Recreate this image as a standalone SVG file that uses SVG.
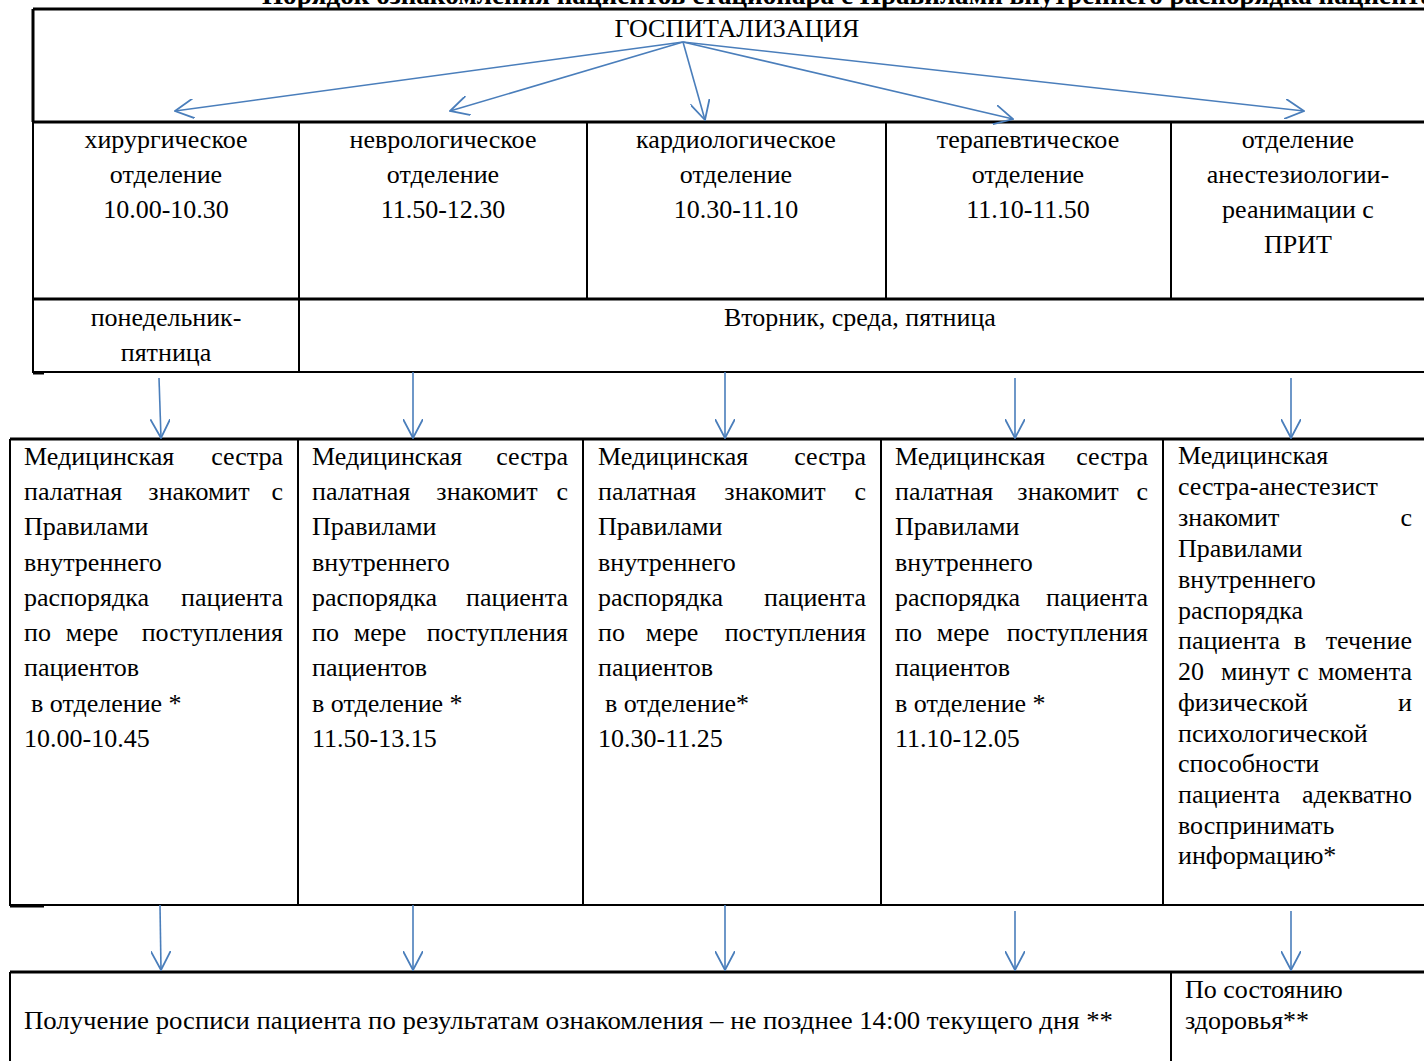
<svg xmlns="http://www.w3.org/2000/svg" width="1424" height="1061" viewBox="0 0 1424 1061">
<style>
text{font-family:"Liberation Serif","Times New Roman",serif;font-size:26px;fill:#000}
.title{font-weight:bold;font-size:27px}
.c{text-anchor:middle}
.e{text-anchor:end}
.thick{stroke:#000;stroke-width:3;fill:none}
.thin{stroke:#000;stroke-width:2;fill:none}
.arr{stroke:#4A7EBB;stroke-width:1.6;fill:none;marker-end:url(#ah)}
</style>
<defs>
<marker id="ah" viewBox="0 0 20 20" refX="19" refY="10" markerWidth="20" markerHeight="20" markerUnits="userSpaceOnUse" orient="auto">
<path d="M0,0 L19,10 L0,20" fill="none" stroke="#4A7EBB" stroke-width="1.8"/>
</marker>
</defs>
<rect width="1424" height="1061" fill="#fff"/>
<text class="title" x="262" y="4" textLength="1172" lengthAdjust="spacingAndGlyphs">Порядок  ознакомления пациентов стационара  с Правилами внутреннего распорядка пациента</text>

<g id="hospitalization">
<path class="thick" d="M33,9 H1424 M33,9 V122"/>
<text class="c" x="737" y="37">ГОСПИТАЛИЗАЦИЯ</text>
</g>

<g id="departments">
<path class="thick" d="M33,122 H1424"/>
<path class="thin" d="M33,122 V299 M299,122 V299 M587,122 V299 M886,122 V299 M1171,122 V299"/>
<g id="dept-surgery">
<text class="c" x="166" y="148">хирургическое</text>
<text class="c" x="166" y="183">отделение</text>
<text class="c" x="166" y="218">10.00-10.30</text>
</g>
<g id="dept-neuro">
<text class="c" x="443" y="148">неврологическое</text>
<text class="c" x="443" y="183">отделение</text>
<text class="c" x="443" y="218">11.50-12.30</text>
</g>
<g id="dept-cardio">
<text class="c" x="736" y="148">кардиологическое</text>
<text class="c" x="736" y="183">отделение</text>
<text class="c" x="736" y="218">10.30-11.10</text>
</g>
<g id="dept-therapy">
<text class="c" x="1028" y="148">терапевтическое</text>
<text class="c" x="1028" y="183">отделение</text>
<text class="c" x="1028" y="218">11.10-11.50</text>
</g>
<g id="dept-icu">
<text class="c" x="1298" y="148">отделение</text>
<text class="c" x="1298" y="183">анестезиологии-</text>
<text class="c" x="1298" y="218">реанимации с</text>
<text class="c" x="1298" y="253">ПРИТ</text>
</g>
</g>

<g id="days">
<path class="thick" d="M33,299 H1424"/>
<path class="thin" d="M33,299 V373 M299,299 V373 M33,372 H1424"/>
<path stroke="#000" stroke-width="3" d="M33,373 H44"/>
<g id="days-mon-fri">
<text class="c" x="166" y="326">понедельник-</text>
<text class="c" x="166" y="361">пятница</text>
</g>
<g id="days-tue-wed-fri">
<text x="724" y="326">Вторник, среда, пятница</text>
</g>
</g>

<g id="familiarization">
<path class="thick" d="M10,439 H1424"/>
<path class="thin" d="M10,439 V906 M298,439 V905 M583,439 V905 M881,439 V905 M1163,439 V905 M10,905 H1424"/>
<path stroke="#000" stroke-width="3" d="M10,906 H44"/>
<g id="fam-surgery">
<text x="24" y="465">Медицинская</text><text class="e" x="283" y="465">сестра</text>
<text x="24" y="500">палатная</text><text class="c" x="199" y="500">знакомит</text><text class="e" x="283" y="500">с</text>
<text x="24" y="535">Правилами</text>
<text x="24" y="571">внутреннего</text>
<text x="24" y="606">распорядка</text><text class="e" x="283" y="606">пациента</text>
<text x="24" y="641">по</text><text class="c" x="92" y="641">мере</text><text class="e" x="283" y="641">поступления</text>
<text x="24" y="676">пациентов</text>
<text x="31" y="712">в отделение *</text>
<text x="24" y="747">10.00-10.45</text>
</g>
<g id="fam-neuro">
<text x="312" y="465">Медицинская</text><text class="e" x="568" y="465">сестра</text>
<text x="312" y="500">палатная</text><text class="c" x="487" y="500">знакомит</text><text class="e" x="568" y="500">с</text>
<text x="312" y="535">Правилами</text>
<text x="312" y="571">внутреннего</text>
<text x="312" y="606">распорядка</text><text class="e" x="568" y="606">пациента</text>
<text x="312" y="641">по</text><text class="c" x="380" y="641">мере</text><text class="e" x="568" y="641">поступления</text>
<text x="312" y="676">пациентов</text>
<text x="312" y="712">в отделение *</text>
<text x="312" y="747">11.50-13.15</text>
</g>
<g id="fam-cardio">
<text x="598" y="465">Медицинская</text><text class="e" x="866" y="465">сестра</text>
<text x="598" y="500">палатная</text><text class="c" x="775" y="500">знакомит</text><text class="e" x="866" y="500">с</text>
<text x="598" y="535">Правилами</text>
<text x="598" y="571">внутреннего</text>
<text x="598" y="606">распорядка</text><text class="e" x="866" y="606">пациента</text>
<text x="598" y="641">по</text><text class="c" x="672" y="641">мере</text><text class="e" x="866" y="641">поступления</text>
<text x="598" y="676">пациентов</text>
<text x="605" y="712">в отделение*</text>
<text x="598" y="747">10.30-11.25</text>
</g>
<g id="fam-therapy">
<text x="895" y="465">Медицинская</text><text class="e" x="1148" y="465">сестра</text>
<text x="895" y="500">палатная</text><text class="c" x="1068" y="500">знакомит</text><text class="e" x="1148" y="500">с</text>
<text x="895" y="535">Правилами</text>
<text x="895" y="571">внутреннего</text>
<text x="895" y="606">распорядка</text><text class="e" x="1148" y="606">пациента</text>
<text x="895" y="641">по</text><text class="c" x="963" y="641">мере</text><text class="e" x="1148" y="641">поступления</text>
<text x="895" y="676">пациентов</text>
<text x="895" y="712">в отделение *</text>
<text x="895" y="747">11.10-12.05</text>
</g>
<g id="fam-icu">
<text x="1178" y="464">Медицинская</text>
<text x="1178" y="495">сестра-анестезист</text>
<text x="1178" y="526">знакомит</text><text class="e" x="1412" y="526">с</text>
<text x="1178" y="557">Правилами</text>
<text x="1178" y="588">внутреннего</text>
<text x="1178" y="619">распорядка</text>
<text x="1178" y="649">пациента</text><text class="c" x="1300" y="649">в</text><text class="e" x="1412" y="649">течение</text>
<text x="1178" y="680">20</text><text x="1221" y="680">минут</text><text class="c" x="1303" y="680">с</text><text class="e" x="1412" y="680">момента</text>
<text x="1178" y="711">физической</text><text class="e" x="1412" y="711">и</text>
<text x="1178" y="742">психологической</text>
<text x="1178" y="772">способности</text>
<text x="1178" y="803">пациента</text><text class="e" x="1412" y="803">адекватно</text>
<text x="1178" y="834">воспринимать</text>
<text x="1178" y="864">информацию*</text>
</g>
</g>

<g id="signature">
<path class="thick" d="M10,972 H1424"/>
<path class="thin" d="M10,972 V1061 M1171,972 V1061"/>
<g id="sig-main">
<text x="24" y="1029" textLength="1089" lengthAdjust="spacingAndGlyphs">Получение росписи пациента по результатам ознакомления – не позднее 14:00 текущего дня **</text>
</g>
<g id="sig-icu">
<text x="1185" y="998">По состоянию</text>
<text x="1185" y="1029">здоровья**</text>
</g>
</g>

<g id="connectors">
<line class="arr" x1="683" y1="42" x2="175" y2="111"/>
<line class="arr" x1="683" y1="42" x2="450" y2="111"/>
<line class="arr" x1="683" y1="42" x2="705" y2="120"/>
<line class="arr" x1="683" y1="42" x2="1013" y2="119"/>
<line class="arr" x1="683" y1="42" x2="1304" y2="111"/>
<line class="arr" x1="159" y1="378" x2="161" y2="438"/>
<line class="arr" x1="413" y1="372" x2="413" y2="438"/>
<line class="arr" x1="725" y1="372" x2="725" y2="438"/>
<line class="arr" x1="1015" y1="378" x2="1015" y2="438"/>
<line class="arr" x1="1291" y1="378" x2="1291" y2="438"/>
<line class="arr" x1="160" y1="905" x2="161" y2="970"/>
<line class="arr" x1="413" y1="905" x2="413" y2="970"/>
<line class="arr" x1="725" y1="905" x2="725" y2="970"/>
<line class="arr" x1="1015" y1="911" x2="1015" y2="970"/>
<line class="arr" x1="1291" y1="911" x2="1291" y2="970"/>
</g>
</svg>
